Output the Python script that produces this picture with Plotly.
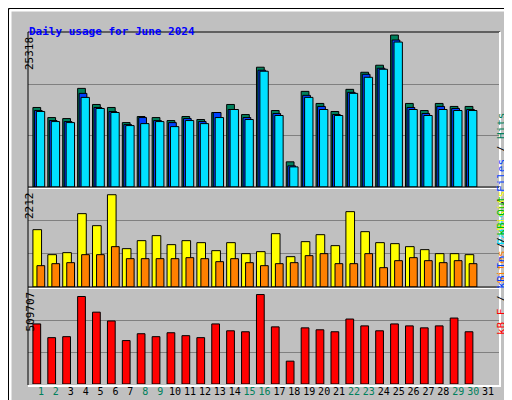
import plotly.graph_objects as go

days = list(range(1, 32))
hits = [13250, 11570, 11400, 16430, 13750, 13250, 10730, 11740, 11570, 11070, 11740, 11240, 12410, 13750, 12070,
        19960, 12740, 4190, 15930, 13920, 12580, 16270, 19120, 20290, 25318, 13920, 12740, 13920, 13420, 13420]
files = [12750, 11070, 10900, 15600, 13250, 12580, 10400, 11570, 11070, 10730, 11400, 10900, 12410, 12910, 11570,
         19460, 12240, 3520, 15270, 13420, 12080, 15770, 18780, 19790, 24490, 13250, 12240, 13420, 13080, 12910]
pages = [12580, 10900, 10730, 14930, 13080, 12410, 10230, 10560, 10900, 10060, 11070, 10560, 11570, 12910, 11240,
         19290, 11910, 3350, 14930, 12910, 11910, 15600, 18280, 19620, 24150, 12910, 11910, 12910, 12740, 12740]
visits = [1374, 775, 823, 1758, 1470, 2212, 919, 1111, 1231, 1015, 1111, 1063, 871, 1063, 799,
          847, 1278, 727, 1087, 1254, 991, 1806, 1326, 1063, 1039, 967, 895, 799, 799, 775]
sites = [511, 559, 583, 775, 775, 967, 679, 679, 679, 679, 703, 679, 607, 679, 583,
         511, 559, 583, 751, 799, 559, 559, 799, 463, 631, 703, 631, 583, 631, 559]
kbytes = [342200, 264100, 269700, 498500, 409200, 359000, 247400, 286400, 269700, 292000, 275300, 264100, 342200,
          303200, 297600, 509707, 325500, 130200, 319900, 308800, 297600, 370100, 331100, 303200, 342200, 331100,
          319900, 331100, 375700, 297600]
weekend = [1, 2, 8, 9, 15, 16, 22, 23, 29, 30]

GRAY = "#c0c0c0"
MONO = "DejaVu Sans Mono"
line = dict(color="black", width=1)

fig = go.Figure()
d = days[:30]


def bars(y, color, offset, width, yaxis):
    fig.add_trace(go.Bar(x=d, y=y, marker=dict(color=color, line=line), offset=offset,
                         width=width, yaxis=yaxis, hoverinfo="skip"))


bars(hits, "#00805c", -0.54, 0.52, "y")
bars(files, "#0040ff", -0.44, 0.52, "y")
bars(pages, "#00e0ff", -0.31, 0.56, "y")
bars(visits, "#ffff00", -0.54, 0.58, "y2")
bars(sites, "#ff8000", -0.27, 0.52, "y2")
bars(kbytes, "#ff0000", -0.54, 0.52, "y3")

ticktext = ["<span style='color:#00805c'>%d</span>" % i if i in weekend else str(i) for i in days]


def yax(dom, rng):
    return dict(domain=dom, range=[0, rng], showticklabels=False, ticks="",
                gridcolor="#808080", gridwidth=1, dtick=rng / 3, zeroline=False,
                showline=False, fixedrange=True, anchor="x")


fig.update_layout(
    width=512, height=400, margin=dict(l=20, r=20, t=25, b=24),
    paper_bgcolor=GRAY, plot_bgcolor=GRAY, showlegend=False, barmode="overlay",
    font=dict(family=MONO, size=11, color="black"),
    xaxis=dict(range=[0.13, 31.8], tickvals=days, ticktext=ticktext, ticks="", showgrid=False,
               zeroline=False, tickfont=dict(size=10), tickangle=0, anchor="y3"),
    yaxis3=yax([0, 0.2735], 546900),
    yaxis2=yax([0.2764, 0.5584], 2373),
    yaxis=yax([0.5613, 1], 25660),
)


def px(x):
    return (x - 20) / 472


def py(y):
    return (376 - y) / 351


def seg(x0, y0, x1, y1, color, width=1):
    return dict(type="line", xref="paper", yref="paper", x0=px(x0), x1=px(x1), y0=py(y0), y1=py(y1),
                line=dict(color=color, width=width))


shapes = [
    # outer bevel
    seg(2, 2, 509, 2, "white", 3),
    seg(2, 2, 2, 397, "white", 3),
    seg(3, 397, 509, 397, "#808080", 4),
    seg(509, 3, 509, 397, "#808080", 4),
    dict(type="rect", xref="paper", yref="paper", x0=px(0.5), x1=px(511.5), y0=py(399.5), y1=py(0.5),
         line=dict(color="black", width=1)),
]
for top, bot in [(24, 179), (179, 279), (279, 377)]:
    shapes.append(seg(20, top, 492, top, "black"))
    if top > 24:
        shapes.append(seg(20, top + 1.5, 492, top + 1.5, "white"))
    shapes.append(seg(20, top, 20, bot, "black"))
    shapes.append(seg(492, top, 492, bot, "white", 2))
shapes.append(seg(20, 378, 493, 378, "white", 2))
fig.update_layout(shapes=shapes)


def note(x, y, text, **kw):
    return dict(xref="paper", yref="paper", x=px(x), y=py(y), text=text, showarrow=False,
                font=dict(size=11, family=MONO, color=kw.pop("color", "black")), **kw)


ann = [
    note(19, 15, "<b>Daily usage for June 2024</b>", xanchor="left", color="#0000ff"),
    note(13, 27, "25318", textangle=-90, yanchor="top"),
    note(13, 182, "2212", textangle=-90, yanchor="top"),
    note(13, 282, "509707", textangle=-90, yanchor="top"),
    note(502, 102, "<span style='color:#00e0ff'>Pages</span> / <span style='color:#0040ff'>Files</span> / "
                   "<span style='color:#00805c'>Hits</span>", textangle=-90),
    note(502, 229, "<span style='color:#ff8000'>Sites</span> / <span style='color:#ffff00'>Visits</span>",
         textangle=-90),
    note(502, 329, "<span style='color:#ff0000'>kB F</span> / <span style='color:#0040ff'>kB In</span> / "
                   "<span style='color:#00c000'>kB Out</span>", textangle=-90),
]
fig.update_layout(annotations=ann)

fig.write_html("out.html")
